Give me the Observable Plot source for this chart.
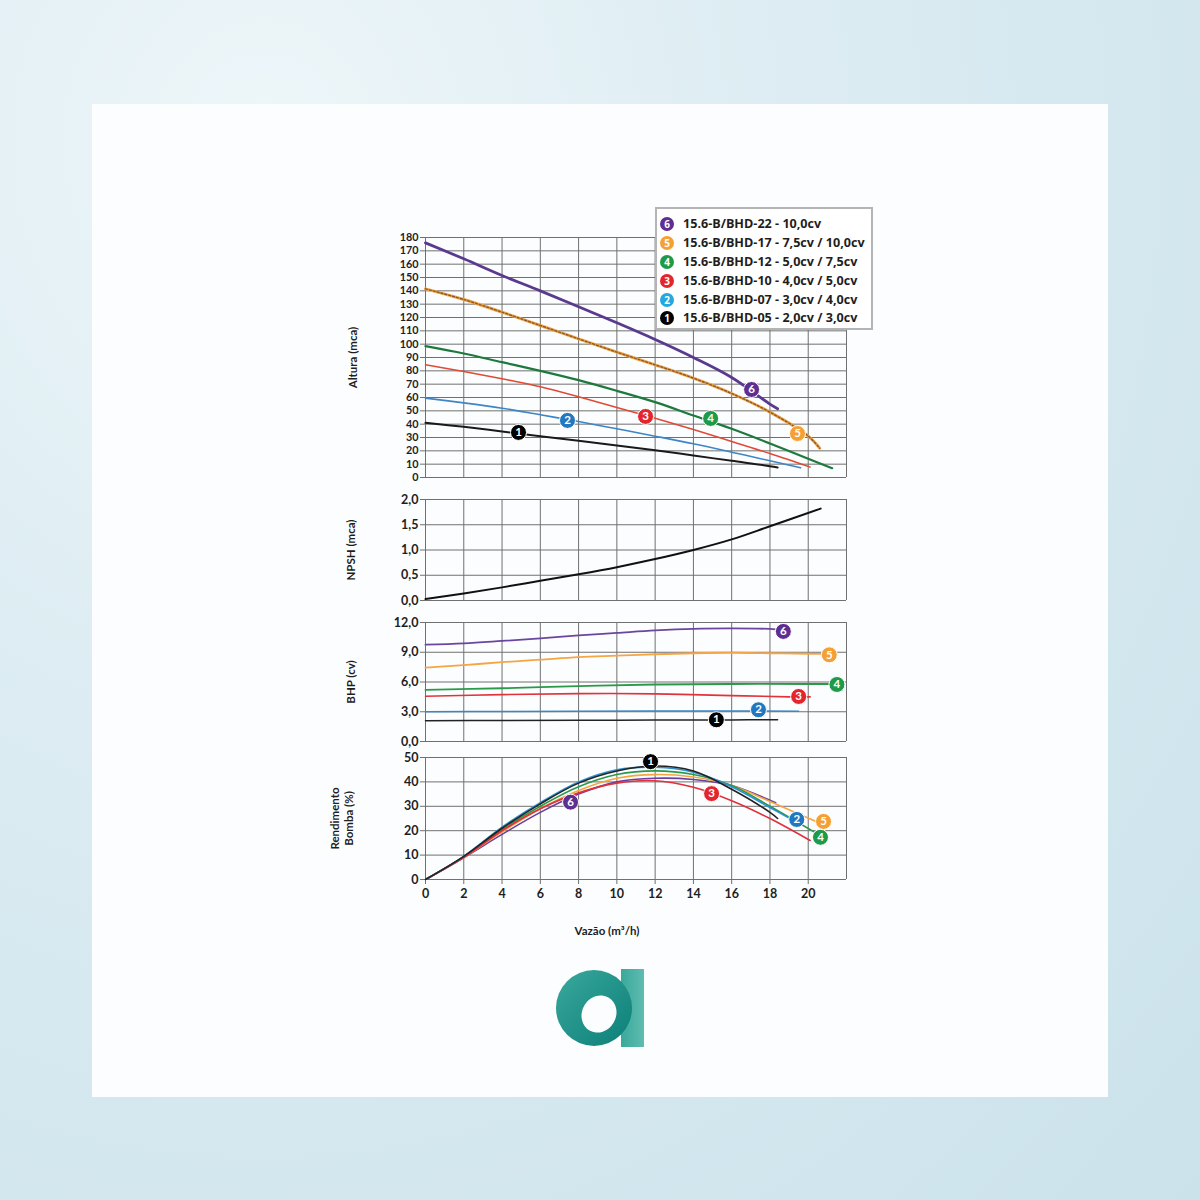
<!DOCTYPE html>
<html><head><meta charset="utf-8">
<script src="https://cdn.jsdelivr.net/npm/d3@7"></script>
<script src="https://cdn.jsdelivr.net/npm/@observablehq/plot@0.6"></script>
<style>
html,body{margin:0;padding:0;}
body{width:1200px;height:1200px;overflow:hidden;position:relative;
 background:radial-gradient(ellipse at 22% 12%, #eef6f9 0%, #dcecf2 40%, #d2e6ee 75%, #cbe2eb 100%);
 font-family:"Open Sans",sans-serif;}
#panel{position:absolute;left:92px;top:104px;width:1016px;height:993px;background:#fcfdfe;}
.plot{position:absolute;left:320px;}
#legend{position:absolute;left:655px;top:207px;width:214px;height:119px;border:2px solid #b4b4b4;background:#fff;z-index:5;}
.row{position:absolute;left:0;height:16px;line-height:16px;white-space:nowrap;}
.dot{position:absolute;left:3px;top:1px;width:14px;height:14px;border-radius:50%;color:#fff;font-size:10px;font-weight:700;text-align:center;line-height:14px;}
.txt{position:absolute;left:26px;top:0;font-size:12.6px;font-weight:700;color:#1e1e1e;}
#logo{position:absolute;left:550px;top:962px;}
</style>
</head><body>
<div id="panel"></div>
<div id="legend"></div>
<div id="charts"></div>
<svg id="logo" width="100" height="92" viewBox="550 962 100 92">
 <defs>
  <linearGradient id="lg1" x1="0" y1="0" x2="1" y2="1">
   <stop offset="0" stop-color="#3aa89c"/><stop offset="1" stop-color="#0b7f78"/>
  </linearGradient>
  <linearGradient id="lg2" x1="0" y1="0" x2="1" y2="0">
   <stop offset="0" stop-color="#3aa89c"/><stop offset="1" stop-color="#5fbcb0"/>
  </linearGradient>
 </defs>
 <rect x="621" y="969" width="23" height="78" fill="url(#lg2)"/>
 <ellipse cx="594" cy="1008" rx="38" ry="38" fill="url(#lg1)"/>
 <ellipse cx="599" cy="1014" rx="17" ry="19" transform="rotate(30 599 1014)" fill="#fcfdfe"/>
</svg>
<script>
// ---------- categories / legend ----------
const seriesIds = ["1","2","3","4","5","6"];
const modelNames = [
  "15.6-B/BHD-05 - 2,0cv / 3,0cv",
  "15.6-B/BHD-07 - 3,0cv / 4,0cv",
  "15.6-B/BHD-10 - 4,0cv / 5,0cv",
  "15.6-B/BHD-12 - 5,0cv / 7,5cv",
  "15.6-B/BHD-17 - 7,5cv / 10,0cv",
  "15.6-B/BHD-22 - 10,0cv"
];
const badgeColors = ["#000000","#2177c0","#e3262d","#1f9a4a","#f4a035","#5e2f91"];
const legendBadgeColors = ["#000000","#25a8e0","#e3262d","#1f9a4a","#f4a035","#5e2f91"];

// ---------- Altura (mca) vs Vazão ----------
const alturaQ1 = [0,2,4,6,8,10,12,14,16,18,18.4];
const alturaH1 = [41,38,34.5,31,27.5,24,20.5,16.5,12.5,8.5,7.5];
const alturaQ2 = [0,2,4,6,8,10,12,14,16,18,19.6];
const alturaH2 = [59.5,56,52,47,42,36.5,31,25.3,19,12.5,7.3];
const alturaQ3 = [0,2,4,6,8,10,12,14,16,18,20.1];
const alturaH3 = [84.5,79.5,74,68,60.5,52.5,44.5,36,27,18,7.8];
const alturaQ4 = [0,2,4,6,8,10,12,14,16,18,20,21.25];
const alturaH4 = [98.5,93,86.5,80,73,65,56.5,46.5,36.5,25.5,14,7];
const alturaQ5 = [0,2,4,6,8,10,12,14,16,18,20,20.6];
const alturaH5 = [141.5,133.5,124,114,104,94,84.5,74.5,63,49,31,22];
const alturaQ6 = [0,2,4,6,8,10,12,14,16,18,18.4];
const alturaH6 = [176,164,151.5,140,128,116,103.5,90,75,55,51.5];
const alturaLabelQ = [4.86,7.42,11.5,14.9,19.44,17.04];
const alturaLabelH = [33.8,42.8,45.8,44.3,33,66];

// ---------- NPSH (mca) ----------
const npshQ = [0,2,4,6,8,10,12,14,16,18,20.65];
const npshV = [0.03,0.14,0.26,0.39,0.52,0.66,0.82,1.0,1.21,1.47,1.82];

// ---------- BHP (cv) ----------
const bhpQ1 = [0,4,8,12,16,18.4];
const bhpV1 = [2.1,2.12,2.14,2.16,2.18,2.2];
const bhpQ2 = [0,4,8,12,16,19.5];
const bhpV2 = [2.99,3.03,3.06,3.07,3.07,3.06];
const bhpQ3 = [0,4,8,12,16,19,20.1];
const bhpV3 = [4.56,4.73,4.83,4.8,4.63,4.5,4.5];
const bhpQ4 = [0,4,8,12,16,20,21.3];
const bhpV4 = [5.2,5.37,5.58,5.75,5.8,5.8,5.8];
const bhpQ5 = [0,2,4,6,8,10,12,14,16,18,20,20.9];
const bhpV5 = [7.44,7.7,8.0,8.25,8.5,8.65,8.8,8.9,8.95,8.9,8.85,8.83];
const bhpQ6 = [0,2,4,6,8,10,12,14,16,18,18.3];
const bhpV6 = [9.77,9.9,10.14,10.4,10.7,10.95,11.2,11.36,11.4,11.35,11.3];
const bhpLabelQ = [15.2,17.4,19.5,21.5,21.1,18.7];
const bhpLabelV = [2.19,3.2,4.54,5.75,8.74,11.1];

// ---------- Rendimento Bomba (%) ----------
const effQ1 = [0,2,4,6,8,10,12,14,16,18,18.4];
const effV1 = [0,9.5,21,31,39.5,44.5,46.5,44.5,37,27.5,25];
const effQ2 = [0,2,4,6,8,10,12,14,16,18,19.5];
const effV2 = [0,9.5,21.5,31.5,40,45,46,44,38,29.5,23];
const effQ3 = [0,2,4,6,8,10,12,14,16,18,20.1];
const effV3 = [0,9,20,29,35.5,39.5,40.5,37.8,32.3,25,16];
const effQ4 = [0,2,4,6,8,10,12,14,16,18,20.3];
const effV4 = [0,9.3,20.5,30,38,43,44.5,43,38.5,30,19.5];
const effQ5 = [0,2,4,6,8,10,12,14,16,18,20.5];
const effV5 = [0,9,19.5,29,36.5,41.5,43,42,38.5,32,23.5];
const effQ6 = [0,2,4,6,8,10,12,14,16,18,18.3];
const effV6 = [0,9,18.5,27.5,35,40,41.5,41,38.5,32.5,31.5];
const effLabelQ = [11.76,19.4,14.95,20.64,20.8,7.58];
const effLabelV = [48.3,24.6,35.2,17.3,23.8,31.7];

// ---------- axis ticks ----------
const xGrid = d3.range(0, 23, 2);
const xTickLabels = d3.range(0, 21, 2);
const alturaTicks = d3.range(0, 181, 10);
const npshTicks = [0,0.5,1,1.5,2];
const bhpTicks = [0,3,6,9,12];
const effTicks = [0,10,20,30,40,50];

// ---------- helpers ----------
const zip = (qs, vs) => qs.map((q, i) => ({q, v: vs[i]}));
const comma1 = d => d3.format(".1f")(d).replace(".", ",");
const gridColor = "#707070";
const W = 540, ML = 105, MR = 14;
const baseStyle = {fontFamily: "Lato, 'Open Sans', sans-serif", fontSize: "12.5px", fontWeight: "700", color: "#1e1e1e", background: "transparent", overflow: "visible"};

function badges(qs, vs) {
  const data = qs.map((q, i) => ({q, v: vs[i], id: seriesIds[i], c: badgeColors[i]}));
  return [
    Plot.dot(data, {x: "q", y: "v", r: 8, fill: d => d.c, stroke: "#fff", strokeWidth: 1}),
    Plot.text(data, {x: "q", y: "v", text: "id", fill: "#fff", fontSize: 11.5, fontWeight: "bold"})
  ];
}
function yLabel(text, dx) {
  return Plot.text([text], {frameAnchor: "left", textAnchor: "middle", lineAnchor: "middle", dx, rotate: -90, fontSize: 11.5, fontWeight: "bold", lineHeight: 1.25});
}
function place(svg, top) {
  svg.classList.add("plot");
  svg.style.top = top + "px";
  document.getElementById("charts").appendChild(svg);
}

// ---------- Panel 1: Altura ----------
const altLines = [
  {d: zip(alturaQ1, alturaH1), c: "#1a1a1a", w: 2},
  {d: zip(alturaQ2, alturaH2), c: "#3d85c6", w: 1.6},
  {d: zip(alturaQ3, alturaH3), c: "#e04a35", w: 1.5},
  {d: zip(alturaQ4, alturaH4), c: "#1d7a3c", w: 2.2},
  {d: zip(alturaQ6, alturaH6), c: "#5a3a8f", w: 2.8}
];
const p1 = Plot.plot({
  width: W, height: 253, marginLeft: ML, marginRight: MR, marginTop: 10, marginBottom: 3,
  style: baseStyle,
  x: {domain: [0, 22], axis: null},
  y: {domain: [0, 180], axis: null},
  marks: [
    Plot.gridX(xGrid, {stroke: gridColor, strokeOpacity: 1}),
    Plot.gridY(alturaTicks, {stroke: gridColor, strokeOpacity: 1}),
    Plot.axisY(alturaTicks, {tickSize: 5, tickPadding: 2, label: null, stroke: gridColor, fontSize: 10.8}),
    ...altLines.map(l => Plot.line(l.d, {x: "q", y: "v", stroke: l.c, strokeWidth: l.w, curve: "catmull-rom"})),
    Plot.line(zip(alturaQ5, alturaH5), {x: "q", y: "v", stroke: "#f0a448", strokeWidth: 3, curve: "catmull-rom"}),
    Plot.line(zip(alturaQ5, alturaH5), {x: "q", y: "v", stroke: "#8a5a2a", strokeWidth: 1.4, strokeDasharray: "2,2", curve: "catmull-rom"}),
    ...badges(alturaLabelQ, alturaLabelH),
    yLabel("Altura (mca)", -73)
  ]
});
place(p1, 227);

// ---------- Panel 2: NPSH ----------
const p2 = Plot.plot({
  width: W, height: 116, marginLeft: ML, marginRight: MR, marginTop: 10, marginBottom: 5,
  style: baseStyle,
  x: {domain: [0, 22], axis: null},
  y: {domain: [0, 2], axis: null},
  marks: [
    Plot.gridX(xGrid, {stroke: gridColor, strokeOpacity: 1}),
    Plot.gridY(npshTicks, {stroke: gridColor, strokeOpacity: 1}),
    Plot.axisY(npshTicks, {tickSize: 5, tickPadding: 2, label: null, tickFormat: comma1, stroke: gridColor}),
    Plot.line(zip(npshQ, npshV), {x: "q", y: "v", stroke: "#111", strokeWidth: 2, curve: "catmull-rom"}),
    yLabel("NPSH (mca)", -75)
  ]
});
place(p2, 489);

// ---------- Panel 3: BHP ----------
const bhpLines = [
  {d: zip(bhpQ1, bhpV1), c: "#222222", w: 1.5},
  {d: zip(bhpQ2, bhpV2), c: "#3a86c8", w: 1.5},
  {d: zip(bhpQ3, bhpV3), c: "#e2333a", w: 1.6},
  {d: zip(bhpQ4, bhpV4), c: "#2a9a4a", w: 1.8},
  {d: zip(bhpQ5, bhpV5), c: "#f6a543", w: 1.8},
  {d: zip(bhpQ6, bhpV6), c: "#6a46a0", w: 1.8}
];
const p3 = Plot.plot({
  width: W, height: 134, marginLeft: ML, marginRight: MR, marginTop: 10, marginBottom: 5,
  style: baseStyle,
  x: {domain: [0, 22], axis: null},
  y: {domain: [0, 12], axis: null},
  marks: [
    Plot.gridX(xGrid, {stroke: gridColor, strokeOpacity: 1}),
    Plot.gridY(bhpTicks, {stroke: gridColor, strokeOpacity: 1}),
    Plot.axisY(bhpTicks, {tickSize: 5, tickPadding: 2, label: null, tickFormat: comma1, stroke: gridColor}),
    ...bhpLines.map(l => Plot.line(l.d, {x: "q", y: "v", stroke: l.c, strokeWidth: l.w, curve: "catmull-rom"})),
    ...badges(bhpLabelQ, bhpLabelV),
    yLabel("BHP (cv)", -75)
  ]
});
place(p3, 612);

// ---------- Panel 4: Rendimento ----------
const effLines = [
  {d: zip(effQ6, effV6), c: "#6a3fa0"},
  {d: zip(effQ5, effV5), c: "#f5a540"},
  {d: zip(effQ4, effV4), c: "#2a9a4a"},
  {d: zip(effQ3, effV3), c: "#e0303a"},
  {d: zip(effQ2, effV2), c: "#2e8fd0"},
  {d: zip(effQ1, effV1), c: "#222222"}
];
const p4 = Plot.plot({
  width: W, height: 192, marginLeft: ML, marginRight: MR, marginTop: 10, marginBottom: 60,
  style: baseStyle,
  x: {domain: [0, 22], axis: null},
  y: {domain: [0, 50], axis: null},
  marks: [
    Plot.gridX(xGrid, {stroke: gridColor, strokeOpacity: 1}),
    Plot.gridY(effTicks, {stroke: gridColor, strokeOpacity: 1}),
    Plot.axisY(effTicks, {tickSize: 5, tickPadding: 2, label: null, stroke: gridColor}),
    Plot.axisX(xTickLabels, {tickSize: 5, tickPadding: 5, label: null, stroke: gridColor}),
    ...effLines.map(l => Plot.line(l.d, {x: "q", y: "v", stroke: l.c, strokeWidth: 1.6, curve: "catmull-rom"})),
    ...badges(effLabelQ, effLabelV),
    yLabel("Rendimento\nBomba (%)", -84),
    Plot.text(["Vazão (m³/h)"], {frameAnchor: "bottom", dy: 55, dx: -29, fontSize: 11.5, fontWeight: "bold"})
  ]
});
place(p4, 747);

// ---------- Legend ----------
const legend = document.getElementById("legend");
const legendOrder = [5,4,3,2,1,0];
const rowCenters = [15, 34, 53, 72, 91, 109];
legendOrder.forEach((idx, k) => {
  const row = document.createElement("div");
  row.className = "row";
  row.style.top = (rowCenters[k] - 8) + "px";
  const dot = document.createElement("span");
  dot.className = "dot";
  dot.style.background = legendBadgeColors[idx];
  dot.textContent = seriesIds[idx];
  const txt = document.createElement("span");
  txt.className = "txt";
  txt.textContent = modelNames[idx];
  row.appendChild(dot); row.appendChild(txt);
  legend.appendChild(row);
});
</script>
</body></html>
